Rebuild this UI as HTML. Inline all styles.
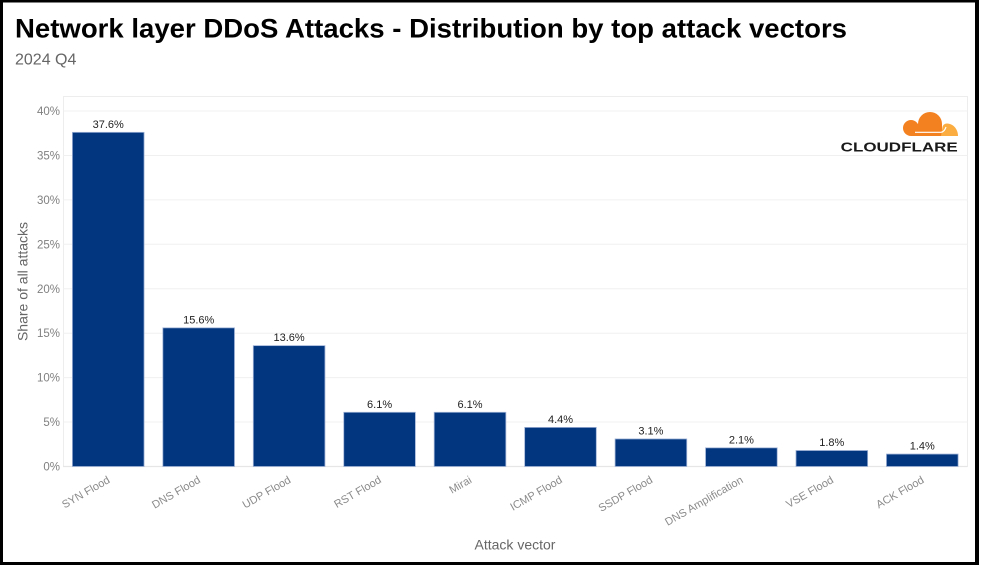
<!DOCTYPE html>
<html>
<head>
<meta charset="utf-8">
<style>
  html, body { margin:0; padding:0; background:#fff; }
  body { width:981px; height:566px; overflow:hidden; }
  svg { display:block; }
  text { font-family: "Liberation Sans", Arial, sans-serif; }
</style>
</head>
<body>
<svg width="981" height="566" viewBox="0 0 981 566" xmlns="http://www.w3.org/2000/svg">
  <rect x="0" y="0" width="981" height="566" fill="#ffffff"/>

  <!-- outer black frame -->
  <rect x="0" y="0" width="979" height="2.5" fill="#000"/>
  <rect x="0" y="0" width="3" height="565" fill="#000"/>
  <rect x="975" y="0" width="4" height="565" fill="#000"/>
  <rect x="0" y="562" width="979" height="3" fill="#000"/>

  <!-- title -->
  <text x="15" y="37.7" font-size="27" font-weight="bold" fill="#000" textLength="832" lengthAdjust="spacingAndGlyphs">Network layer DDoS Attacks - Distribution by top attack vectors</text>
  <text x="15" y="64.5" font-size="16" fill="#666">2024 Q4</text>

  <!-- panel outline -->
  <rect x="63.5" y="96.5" width="904" height="370" fill="none" stroke="#ededed" stroke-width="1"/>

  <!-- gridlines -->
  <g stroke="#f0f0f0" stroke-width="1">
    <line x1="63" x2="967.5" y1="111" y2="111"/>
    <line x1="63" x2="967.5" y1="155.44" y2="155.44"/>
    <line x1="63" x2="967.5" y1="199.88" y2="199.88"/>
    <line x1="63" x2="967.5" y1="244.31" y2="244.31"/>
    <line x1="63" x2="967.5" y1="288.75" y2="288.75"/>
    <line x1="63" x2="967.5" y1="333.19" y2="333.19"/>
    <line x1="63" x2="967.5" y1="377.63" y2="377.63"/>
    <line x1="63" x2="967.5" y1="422.06" y2="422.06"/>
  </g>
  <line x1="63" x2="967.5" y1="466.5" y2="466.5" stroke="#e6e6e6" stroke-width="1.2"/>

  <!-- y tick labels -->
  <g font-size="11.5" fill="#808080" text-anchor="end">
    <text x="60" y="115">40%</text>
    <text x="60" y="159.4">35%</text>
    <text x="60" y="203.9">30%</text>
    <text x="60" y="248.3">25%</text>
    <text x="60" y="292.8">20%</text>
    <text x="60" y="337.2">15%</text>
    <text x="60" y="381.6">10%</text>
    <text x="60" y="426.1">5%</text>
    <text x="60" y="470.5">0%</text>
  </g>

  <!-- bars -->
  <g fill="#02367f" stroke="#9fb2d6" stroke-width="0.8">
    <rect x="72.4" y="132.33" width="71.65" height="334.17"/>
    <rect x="162.85" y="327.85" width="71.65" height="138.65"/>
    <rect x="253.3" y="345.63" width="71.65" height="120.87"/>
    <rect x="343.75" y="412.29" width="71.65" height="54.21"/>
    <rect x="434.2" y="412.29" width="71.65" height="54.21"/>
    <rect x="524.65" y="427.4" width="71.65" height="39.1"/>
    <rect x="615.1" y="438.95" width="71.65" height="27.55"/>
    <rect x="705.55" y="447.84" width="71.65" height="18.66"/>
    <rect x="796.0" y="450.5" width="71.65" height="16.0"/>
    <rect x="886.45" y="454.06" width="71.65" height="12.44"/>
  </g>

  <!-- value labels -->
  <g font-size="11" fill="#222" text-anchor="middle">
    <text x="108.2" y="127.8">37.6%</text>
    <text x="198.7" y="323.3">15.6%</text>
    <text x="289.1" y="341.1">13.6%</text>
    <text x="379.6" y="407.8">6.1%</text>
    <text x="470.0" y="407.8">6.1%</text>
    <text x="560.5" y="422.9">4.4%</text>
    <text x="650.9" y="434.4">3.1%</text>
    <text x="741.4" y="443.3">2.1%</text>
    <text x="831.8" y="446.0">1.8%</text>
    <text x="922.3" y="449.5">1.4%</text>
  </g>

  <!-- x tick labels -->
  <g font-size="11" fill="#8a8a8a" text-anchor="end">
    <text transform="translate(110.7,482) rotate(-30)">SYN Flood</text>
    <text transform="translate(201.2,482) rotate(-30)">DNS Flood</text>
    <text transform="translate(291.6,482) rotate(-30)">UDP Flood</text>
    <text transform="translate(382.1,482) rotate(-30)">RST Flood</text>
    <text transform="translate(472.5,482) rotate(-30)">Mirai</text>
    <text transform="translate(563.0,482) rotate(-30)">ICMP Flood</text>
    <text transform="translate(653.4,482) rotate(-30)">SSDP Flood</text>
    <text transform="translate(743.9,482) rotate(-30)">DNS Amplification</text>
    <text transform="translate(834.3,482) rotate(-30)">VSE Flood</text>
    <text transform="translate(924.8,482) rotate(-30)">ACK Flood</text>
  </g>

  <!-- axis titles -->
  <text transform="translate(27.5,281.5) rotate(-90)" font-size="14" fill="#666" text-anchor="middle">Share of all attacks</text>
  <text x="515" y="549.5" font-size="14" fill="#666" text-anchor="middle">Attack vector</text>

  <!-- Cloudflare logo -->
  <g>
    <g fill="#F48120">
      <circle cx="911" cy="128" r="8"/>
      <circle cx="930" cy="124" r="12"/>
      <rect x="911" y="124" width="31" height="12"/>
    </g>
    <path fill="#FBAD41" d="M941,136 L958,136 C958,129 953,123.5 947,123.5 C944.5,123.5 943,125 942.5,127 Z"/>
    <path d="M915,132.3 L941,132.3" stroke="#fff" stroke-width="1.2" fill="none"/>
    <path d="M941,132.3 C943,132 945,130 946,127" stroke="#fff" stroke-width="1.2" fill="none"/>
    <text x="840.7" y="151.7" font-size="12.5" font-weight="bold" fill="#1a1a1a" textLength="117" lengthAdjust="spacingAndGlyphs">CLOUDFLARE</text>
  </g>
</svg>
</body>
</html>
